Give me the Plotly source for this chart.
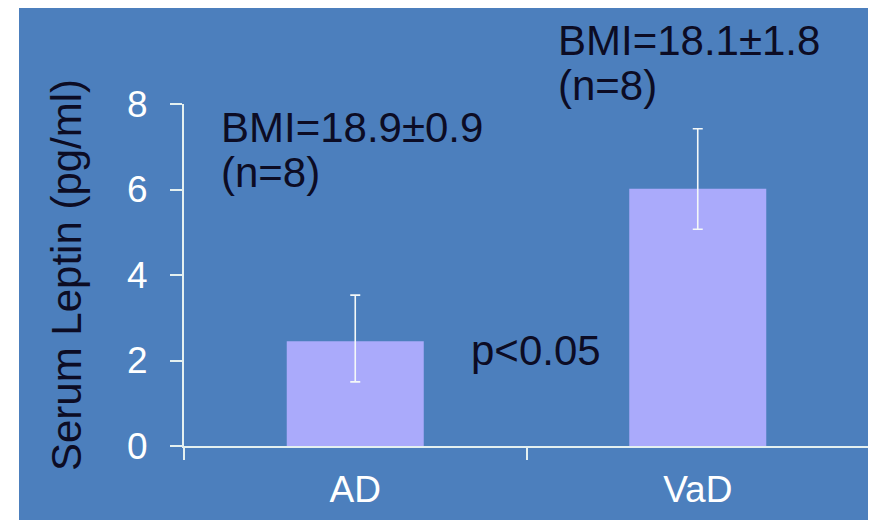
import plotly.graph_objects as go

categories = ["AD", "VaD"]
leptin_mean = [2.45, 6.02]
err_plus = [1.08, 1.40]
err_minus = [0.95, 0.95]
y_ticks = [0, 2, 4, 6, 8]

BG = "#4c7fbd"
BAR = "#aaaafb"
DARK = "#0c0c24"
AXIS = "#e4f0f0"
FONT = "Liberation Sans, Arial, sans-serif"

# page has an 8px body margin; size figure so it fills the 876x520 window
OFF = 8
W, H = 876 - OFF, 520 - OFF
L, R, T, B = 184 - OFF, W - (869 - OFF), 104 - OFF, H - (446 - OFF)
PW, PH = W - L - R, H - T - B

def px(xp):
    return (xp - OFF - L) / PW

def py(yp):
    return ((446 - OFF) - (yp - OFF)) / PH

fig = go.Figure()
fig.add_trace(go.Bar(
    x=categories, y=leptin_mean,
    marker=dict(color=BAR, line=dict(width=0)),
    width=0.4,
    error_y=dict(type="data", symmetric=False, array=err_plus, arrayminus=err_minus,
                 color="#f4f8f8", thickness=1.6, width=5),
))

# blue background panel (reference has white strip at top and left)
fig.add_shape(type="rect", xref="paper", yref="paper",
              x0=px(19), x1=px(880), y0=py(530), y1=py(0),
              fillcolor=BG, line=dict(width=0), layer="below")

ann = [
    ("BMI=18.9±0.9", 219, 127),
    ("(n=8)", 219, 172),
    ("BMI=18.1±1.8", 556, 40),
    ("(n=8)", 556, 85),
    ("p<0.05", 469, 350),
]
for txt, xx, yy in ann:
    fig.add_annotation(text=txt, xref="paper", yref="paper", x=px(xx), y=py(yy),
                       xanchor="left", yanchor="middle", showarrow=False,
                       font=dict(family=FONT, size=42, color=DARK))

fig.update_layout(
    width=W, height=H,
    margin=dict(l=L, r=R, t=T, b=B, pad=0),
    paper_bgcolor="white", plot_bgcolor=BG,
    showlegend=False,
    font=dict(family=FONT),
    xaxis=dict(
        showline=True, linecolor=AXIS, linewidth=2,
        ticks="outside", ticklen=12, tickcolor=AXIS, tickwidth=1.5,
        tickson="boundaries", showgrid=False, zeroline=False,
        tickfont=dict(family=FONT, size=37, color="white"),
        ticklabelstandoff=10,
    ),
    yaxis=dict(
        range=[0, 8], tickvals=y_ticks,
        showline=True, linecolor=AXIS, linewidth=2,
        ticks="outside", ticklen=12, tickcolor=AXIS, tickwidth=1.5,
        showgrid=False, zeroline=False,
        tickfont=dict(family=FONT, size=37, color="white"),
        ticklabelstandoff=15,
        title=dict(text="Serum Leptin (pg/ml)", standoff=32,
                   font=dict(family=FONT, size=42, color=DARK)),
    ),
)

fig.write_html("out.html")
